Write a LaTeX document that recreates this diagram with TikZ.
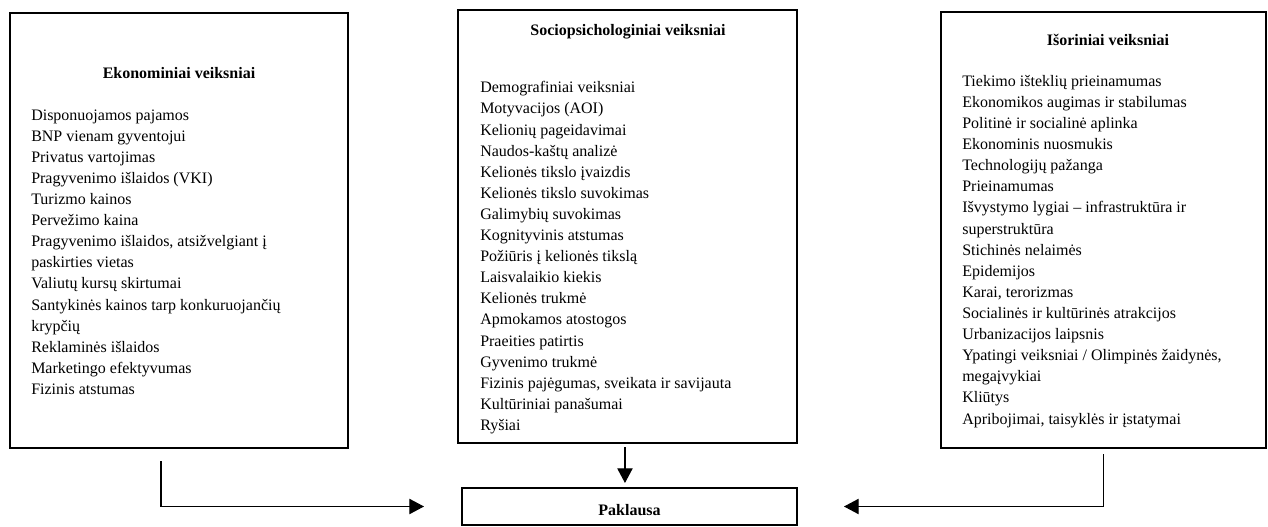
\documentclass[tikz,border=0pt]{standalone}
\usepackage{fontspec}
\setmainfont{Liberation Serif}
\usetikzlibrary{arrows.meta,positioning}
\newcommand{\listfont}{\fontsize{12}{15.83}\selectfont}

\begin{document}
\begin{tikzpicture}[x=0.75pt, y=-0.75pt,
  frame/.style={draw, line width=1.5pt, inner sep=0pt},
  head/.style={font=\listfont\bfseries, inner sep=0pt, anchor=base},
  items/.style={font=\listfont, align=left, inner sep=0pt, anchor=base west},
  conn/.style={line width=0.8pt, -{Triangle[length=11pt,width=11.5pt]}}]
\useasboundingbox (0,0) rectangle (1268,527);

\node[frame, minimum width=253.5pt, minimum height=326.25pt] (eko) at (179,230.5) {};
\node[frame, minimum width=254.25pt, minimum height=324.75pt] (soc) at (627.5,226.5) {};
\node[frame, minimum width=243.75pt, minimum height=327pt] (iso) at (1103.5,230) {};
\node[frame, minimum width=251.25pt, minimum height=27.75pt, text height=14pt, font=\listfont\bfseries] (paklausa) at (629.5,506.5) {Paklausa};

\node[head] (ekohead) at (179,79) {Ekonominiai veiksniai};
\node[head] (sochead) at (628,36) {Sociopsichologiniai veiksniai};
\node[head] (isohead) at (1108,46) {Išoriniai veiksniai};

\node[items] (ekolist) at (31,394.5) {Disponuojamos pajamos\\ BNP vienam gyventojui\\ Privatus vartojimas\\
Pragyvenimo išlaidos (VKI)\\ Turizmo kainos\\ Pervežimo kaina\\ Pragyvenimo išlaidos, atsižvelgiant į\\
paskirties vietas\\ Valiutų kursų skirtumai\\ Santykinės kainos tarp konkuruojančių\\ krypčių\\
Reklaminės išlaidos\\ Marketingo efektyvumas\\ Fizinis atstumas};
\node[items] (soclist) at (480,430.5) {Demografiniai veiksniai\\ Motyvacijos (AOI)\\ Kelionių pageidavimai\\
Naudos-kaštų analizė\\ Kelionės tikslo įvaizdis\\ Kelionės tikslo suvokimas\\ Galimybių suvokimas\\
Kognityvinis atstumas\\ Požiūris į kelionės tikslą\\ Laisvalaikio kiekis\\ Kelionės trukmė\\
Apmokamos atostogos\\ Praeities patirtis\\ Gyvenimo trukmė\\ Fizinis pajėgumas, sveikata ir savijauta\\
Kultūriniai panašumai\\ Ryšiai};
\node[items] (isolist) at (962,424) {Tiekimo išteklių prieinamumas\\ Ekonomikos augimas ir stabilumas\\
Politinė ir socialinė aplinka\\ Ekonominis nuosmukis\\ Technologijų pažanga\\ Prieinamumas\\
Išvystymo lygiai – infrastruktūra ir\\ superstruktūra\\ Stichinės nelaimės\\ Epidemijos\\
Karai, terorizmas\\ Socialinės ir kultūrinės atrakcijos\\ Urbanizacijos laipsnis\\
Ypatingi veiksniai / Olimpinės žaidynės,\\ megaįvykiai\\ Kliūtys\\ Apribojimai, taisyklės ir įstatymai};

\draw[conn] ([xshift=-13.5pt,yshift=-9pt]eko.south) |- ([xshift=-27.75pt]paklausa.west);
\draw[conn, shorten >=3pt] ([xshift=-1.9pt,yshift=-2.5pt]soc.south) -- ([xshift=-1.9pt]soc.south |- paklausa.north);
\draw[conn] ([yshift=-3.75pt]iso.south) |- ([xshift=34.5pt]paklausa.east);
\end{tikzpicture}
\end{document}
